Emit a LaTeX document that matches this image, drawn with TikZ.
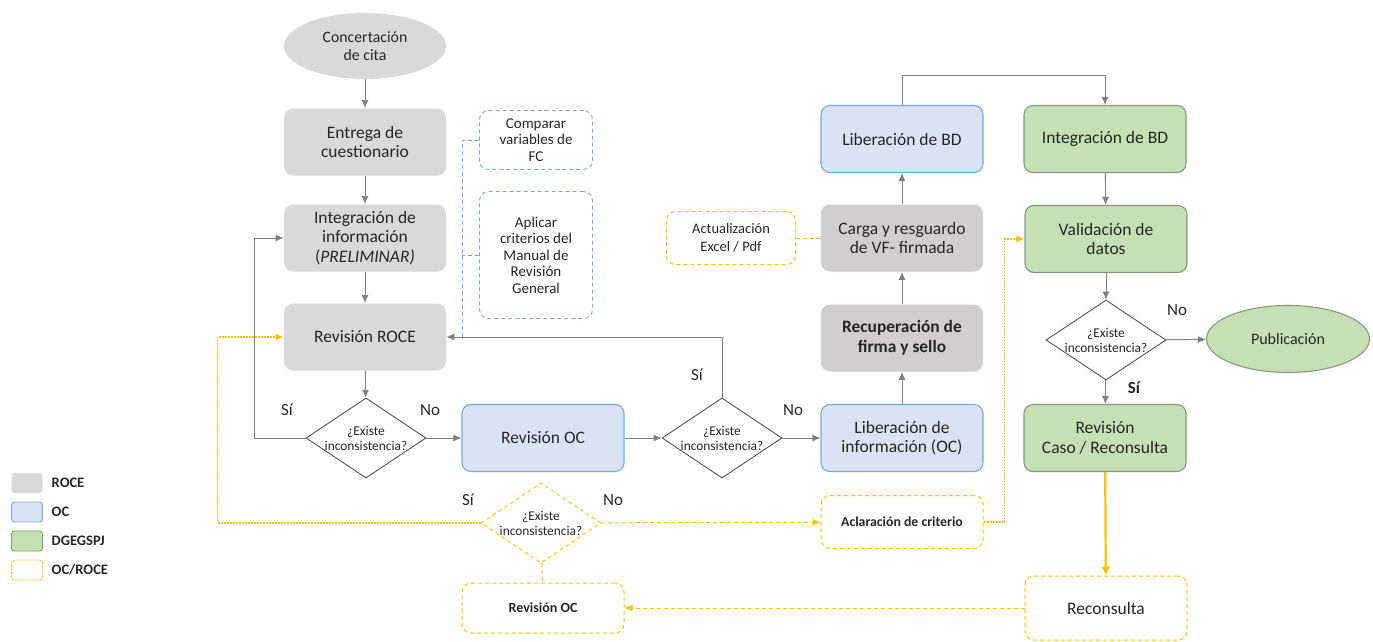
\documentclass[tikz,border=0pt]{standalone}
\usepackage{fontspec}
\setmainfont{Carlito}
\usepackage{xcolor}
\usetikzlibrary{arrows.meta,positioning,calc,shapes.geometric}

\definecolor{rocefill}{HTML}{D9D9D9}
\definecolor{rocefilldark}{HTML}{D0CECE}
\definecolor{ocfill}{HTML}{DAE3F3}
\definecolor{ocline}{HTML}{7DA5DB}
\definecolor{dgfill}{HTML}{C5E0B4}
\definecolor{dgline}{HTML}{8A9585}
\definecolor{dgleg}{HTML}{70AD47}
\definecolor{ocroce}{HTML}{FFC000}
\definecolor{arrowgray}{HTML}{808080}
\definecolor{txt}{HTML}{262626}

\begin{document}
\begin{tikzpicture}[x=1pt, y=-1pt, >={Latex[length=8pt,width=7pt]}, line width=0.9pt,
    box/.style={rounded corners=9pt, minimum width=162pt, minimum height=67pt,
        align=center, inner sep=2pt, text=txt, font=\fontsize{17.5}{19.5}\selectfont},
    roce/.style={box, fill=rocefill},
    rocedark/.style={box, fill=rocefilldark},
    oc/.style={box, fill=ocfill, draw=ocline, line width=1.1pt},
    dg/.style={box, fill=dgfill, draw=dgline, line width=1.1pt},
    ocr/.style={box, draw=ocroce, dashed, line width=1pt, dash pattern=on 4pt off 3pt},
    note/.style={rounded corners=9pt, draw=ocline, line width=0.9pt, dash pattern=on 4pt off 3pt,
        minimum width=113pt, align=center, text=txt, inner sep=1pt, font=\fontsize{15}{16.5}\selectfont},
    choice/.style={diamond, aspect=1.5, inner sep=-6pt, minimum width=120pt, minimum height=80pt,
        draw=txt!80, fill=white, line width=0.9pt, align=center, text=txt,
        font=\fontsize{13.4}{15}\selectfont},
    flow/.style={->, draw=arrowgray},
    ylink/.style={draw=ocroce, line width=1pt, dash pattern=on 4pt off 3pt},
    ydot/.style={draw=ocroce, line width=1.2pt, dash pattern=on 2pt off 1pt},
    tag/.style={text=txt, font=\fontsize{17}{19}\selectfont},
    legbox/.style={rounded corners=3pt, minimum width=31pt, minimum height=20pt, inner sep=0pt},
    legtag/.style={right=5pt, text=txt, font=\bfseries\fontsize{14.5}{16}\selectfont}]

    \useasboundingbox (0,0) rectangle (1373,642);

    % Legend
    \node[legbox, fill=rocefill] (legroce) at (27,483) {};
    \node[legtag] (legroceT) at (legroce.east) {ROCE};
    \node[legbox, fill=ocfill, draw=ocline] (legoc) at (27,512) {};
    \node[legtag] (legocT) at (legoc.east) {OC};
    \node[legbox, fill=dgfill, draw=dgleg] (legdg) at (27,541) {};
    \node[legtag] (legdgT) at (legdg.east) {DGEGSPJ};
    \node[legbox, draw=ocroce, dashed, dash pattern=on 2pt off 1.5pt] (legocr) at (27,570) {};
    \node[legtag] (legocrT) at (legocr.east) {OC/ROCE};

    % Left column
    \node[ellipse, fill=rocefill, minimum width=162pt, minimum height=66pt, inner sep=0pt,
        align=center, text=txt, font=\fontsize{15.8}{18.5}\selectfont] (cita) at (365,46) {Concertación\\de cita};
    \node[roce] (entrega) at (365,142) {Entrega de\\cuestionario};
    \node[roce] (integ) at (365,238) {Integración de\\información\\(\textit{PRELIMINAR)}};
    \node[roce] (revroce) at (365,337) {Revisión ROCE};
    \node[choice] (dec1) at (366,438) {¿Existe\\inconsistencia?};

    % Notes
    \node[note, minimum height=59pt] (comparar) at (536,140) {Comparar\\variables de\\FC};
    \node[note, minimum height=127pt] (aplicar) at (536,255) {Aplicar\\criterios del\\Manual de\\Revisión\\General};

    % Middle
    \node[oc] (revoc) at (543,438) {Revisión OC};
    \node[choice] (dec2) at (722,438) {¿Existe\\inconsistencia?};
    \node[choice, draw=ocroce, dash pattern=on 4pt off 3pt] (dec4) at (541,523) {¿Existe\\inconsistencia?};
    \node[ocr, minimum height=50pt, font=\bfseries\fontsize{14}{16}\selectfont] (revocy) at (543,608) {Revisión OC};

    % OC column
    \node[oc] (libinfo) at (902,438) {Liberación de\\información (OC)};
    \node[rocedark, font=\bfseries\fontsize{17.4}{19.5}\selectfont] (recup) at (902,338) {Recuperación de\\firma y sello};
    \node[rocedark] (carga) at (902,238) {Carga y resguardo\\de VF- firmada};
    \node[oc] (libbd) at (902,139) {Liberación de BD};
    \node[ocr, minimum width=129pt, minimum height=53pt, font=\fontsize{14.5}{17.5}\selectfont] (actual) at (731,238) {Actualización\\Excel / Pdf};
    \node[ocr, minimum height=53pt, font=\bfseries\fontsize{13.8}{16}\selectfont] (aclar) at (902,522) {Aclaración de criterio};

    % DGEGSPJ column
    \node[dg] (integbd) at (1105,139) {Integración de BD};
    \node[dg] (valid) at (1106,239) {Validación de\\datos};
    \node[choice] (dec3) at (1106,340) {¿Existe\\inconsistencia?};
    \node[ellipse, fill=dgfill, draw=dgline, line width=1.1pt, minimum width=163pt, minimum height=67pt,
        inner sep=0pt, text=txt, font=\fontsize{16}{18}\selectfont] (publi) at (1288,339) {Publicación};
    \node[dg] (revcaso) at (1105,438) {Revisión\\Caso / Reconsulta};
    \node[ocr, minimum height=64pt, font=\fontsize{17.5}{19}\selectfont] (recons) at (1106,608) {Reconsulta};

    % Labels
    \node[tag] (si1) at (287,410) {Sí};
    \node[tag] (no1) at (430,410) {No};
    \node[tag] (si2) at (697,375) {Sí};
    \node[tag] (no2) at (793,410) {No};
    \node[tag] (si4) at (468,500) {Sí};
    \node[tag] (no4) at (613,500) {No};
    \node[tag] (no3) at (1177,310) {No};
    \node[tag, font=\bfseries\fontsize{17}{19}\selectfont] (si3) at (1134,388) {Sí};

    % Arrows
    \draw[flow] (cita) -- (entrega);
    \draw[flow] (entrega) -- (integ);
    \draw[flow] (integ) -- (revroce);
    \draw[flow] (revroce) -- (dec1);
    \draw[flow] (dec1.west) -- ++(-51,0) |- (integ.west);
    \draw[flow] (dec1) -- (revoc);
    \draw[flow] (revoc) -- (dec2);
    \draw[flow] (dec2) -- (libinfo);
    \draw[flow] (dec2.north) |- (revroce.east);
    \draw[flow] (libinfo) -- (recup);
    \draw[flow] (recup) -- (carga);
    \draw[flow] (carga) -- (libbd);
    \draw[flow] (libbd.north) -- ++(0,-29) -| (integbd.north);
    \draw[flow] (integbd) -- (valid);
    \draw[flow] (valid) -- (dec3);
    \draw[flow] (dec3) -- (publi);
    \draw[flow] (dec3) -- (revcaso);
    \draw[-{Latex[length=9pt,width=9pt]}, draw=ocroce, line width=2.2pt] (revcaso) -- (recons);

    % Notes links
    \draw[draw=ocline, dash pattern=on 4pt off 3pt] (comparar.west) -- ++(-17,0) coordinate (bk)
        -- (bk |- revroce.east);
    \draw[draw=ocline, dash pattern=on 4pt off 3pt] (aplicar.west) -- (aplicar.west -| bk);

    % OC/ROCE links
    \draw[ylink] (actual) -- (carga);
    \draw[ydot, ->, color=ocroce] (dec4.west) -- ++(-263,0) |- (revroce.west);
    \draw[ylink, ->, color=ocroce] (dec4) -- (aclar);
    \draw[ylink] (dec4) -- (revocy);
    \draw[ydot, ->, color=ocroce] (aclar.east) -- ++(21,0) |- (valid.west);
    \draw[ylink, ->, color=ocroce] (recons) -- (revocy);

\end{tikzpicture}
\end{document}
